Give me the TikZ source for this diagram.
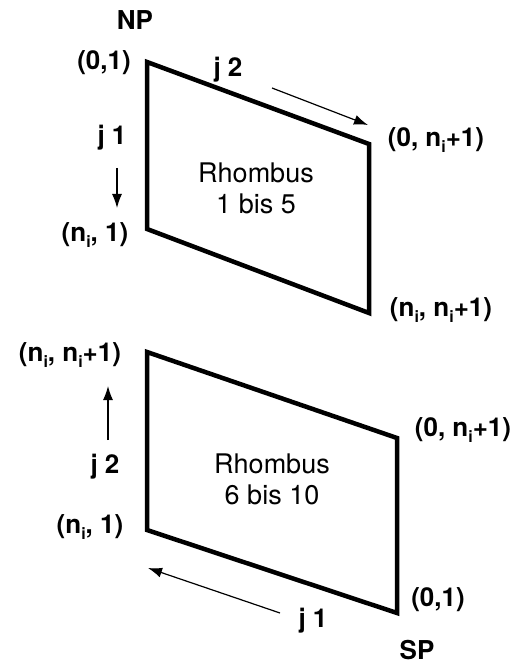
\documentclass[tikz,border=0pt]{standalone}
\usepackage{fontspec}
\setmainfont{TeX Gyre Heros}
\usepackage{tikz}
\usetikzlibrary{arrows.meta,positioning}
\newcommand{\nidx}{n\raisebox{-0.45ex}{\fontsize{16}{16}\selectfont i}}

\begin{document}
\begin{tikzpicture}[x=1pt, y=-1pt, >={Latex[length=14pt,width=10pt]},
  edge/.style={line width=4.5pt, line join=miter, line cap=rect},
  dir/.style={->, line width=1.2pt},
  lbl/.style={font=\fontsize{26}{30}\selectfont\bfseries, inner sep=1pt},
  rhtext/.style={font=\fontsize{27}{31}\selectfont, align=center, inner sep=1pt}]
\useasboundingbox (0,0) rectangle (518,668);
% upper rhombus
\coordinate (ntl) at (147,62);
\coordinate (ntr) at (369,144);
\coordinate (nbr) at (369,313);
\coordinate (nbl) at (147,229);
\draw[edge] (ntl) -- (ntr) -- (nbr) -- (nbl) -- cycle;
\node[rhtext] (nrh) at (256,188) {Rhombus\\1 bis 5};
\node[lbl, anchor=base] (np) at (135,30) {NP};
\node[lbl] (n01) at (104,63) {(0,1)};
\node[lbl] (nj2) at (228,70) {j 2};
\node[lbl] (n0n) at (436,140) {(0, \nidx+1)};
\node[lbl] (nj1) at (112,138) {j 1};
\node[lbl] (nn1) at (95,235) {(\nidx, 1)};
\node[lbl] (nnn) at (441,310) {(\nidx, \nidx+1)};
\coordinate (na1) at (272,88);
\coordinate (na2) at (368,125);
\coordinate (nb1) at (117,168);
\coordinate (nb2) at (117,208);
\draw[dir] (na1) -- (na2);
\draw[dir] (nb1) -- (nb2);
% lower rhombus
\coordinate (stl) at (147,352);
\coordinate (str) at (397,438);
\coordinate (sbr) at (397,613);
\coordinate (sbl) at (147,530);
\draw[edge] (stl) -- (str) -- (sbr) -- (sbl) -- cycle;
\node[rhtext] (srh) at (272,479) {Rhombus\\6 bis 10};
\node[lbl] (snn) at (70,355) {(\nidx, \nidx+1)};
\node[lbl] (sj2) at (105,467) {j 2};
\node[lbl] (sn1) at (90,527) {(\nidx, 1)};
\node[lbl] (s0n) at (463,430) {(0, \nidx+1)};
\node[lbl] (s01) at (438,600) {(0,1)};
\node[lbl] (sj1) at (313,621) {j 1};
\node[lbl, anchor=base, inner sep=0pt] (sp) at (417,659) {SP};
\coordinate (sa1) at (108,440);
\coordinate (sa2) at (108,386);
\coordinate (sb1) at (280,613);
\coordinate (sb2) at (148,568);
\draw[dir] (sa1) -- (sa2);
\draw[dir] (sb1) -- (sb2);
\end{tikzpicture}
\end{document}
